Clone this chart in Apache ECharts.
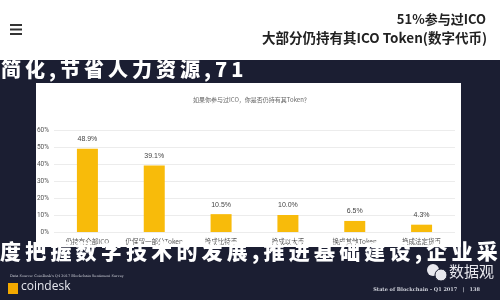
<!DOCTYPE html>
<html><head><meta charset="utf-8">
<script src="https://cdn.jsdelivr.net/npm/echarts@6/dist/echarts.min.js"></script>
<style>html,body{margin:0;padding:0;background:#fff}#c{width:500px;height:300px}</style>
</head><body><div id="c"></div>
<script>
var categories = ['仍持有全部ICO', '仍保留一部分Token', '换成比特币', '换成以太币', '换成其他Token', '换成法定货币'];
var values = [48.9, 39.1, 10.5, 10.0, 6.5, 4.3];
var yTicks = [0, 10, 20, 30, 40, 50, 60];

var DARK = '#1b1e32';
var chart = echarts.init(document.getElementById('c'), null, {renderer: 'canvas'});
var cjk = '"Noto Sans CJK SC", "Noto Sans", sans-serif';
function spaced(s, sep) { return s.split('').join(sep); }
chart.setOption({
  animation: false,
  backgroundColor: '#ffffff',
  grid: {left: 54, right: 45, top: 130, bottom: 68},
  xAxis: {
    type: 'category', data: categories,
    axisLine: {show: false}, axisTick: {show: false},
    axisLabel: {color: '#555', fontSize: 6.5, fontFamily: cjk, margin: 6, interval: 0}
  },
  yAxis: {
    type: 'value', min: yTicks[0], max: yTicks[yTicks.length - 1], interval: 10,
    axisLine: {show: false}, axisTick: {show: false},
    axisLabel: {color: '#555', fontSize: 6.5, formatter: '{value}%', margin: 5, fontFamily: 'Roboto'},
    splitLine: {lineStyle: {color: '#ececec', width: 1}}
  },
  series: [{
    type: 'bar', data: values, barWidth: 21,
    itemStyle: {color: '#f8bb0a'},
    label: {show: true, position: 'top', fontSize: 7, color: '#444', formatter: function (p) { return p.value.toFixed(1) + '%'; }, distance: 6},
    z: 5
  }],
  graphic: [
    {type: 'rect', z: -20, silent: true, shape: {x: 0, y: 60, width: 500, height: 240}, style: {fill: DARK}},
    {type: 'rect', z: -10, silent: true, shape: {x: 36, y: 83, width: 425, height: 164}, style: {fill: '#ffffff'}},
    // hamburger
    {type: 'rect', z: 10, shape: {x: 10, y: 24, width: 12, height: 2}, style: {fill: '#333'}},
    {type: 'rect', z: 10, shape: {x: 10, y: 28.5, width: 12, height: 2}, style: {fill: '#333'}},
    {type: 'rect', z: 10, shape: {x: 10, y: 33, width: 12, height: 2}, style: {fill: '#333'}},
    // header texts
    {type: 'text', z: 10, right: 14, top: 13, style: {text: '51%参与过ICO', font: 'bold 13px ' + cjk, fill: '#222'}},
    {type: 'text', z: 10, right: 13, top: 31, style: {text: '大部分仍持有其ICO Token(数字代币)', font: 'bold 13.5px ' + cjk, fill: '#222'}},
    // subtitle in panel
    {type: 'text', z: 10, left: 193, top: 97, style: {text: '如果你参与过ICO，你是否仍持有其Token？', font: '6px ' + cjk, fill: '#666'}},
    // calligraphy overlays
    {type: 'text', z: 50, left: 1, top: 59, style: {text: spaced('简化,节省人力资源,71', '\u2009'), font: '900 20px ' + cjk, fill: '#ffffff'}},
    {type: 'text', z: 50, left: 0, top: 241, style: {text: spaced('度把握数字技术的发展,推进基础建设,企业采', '\u2009'), font: '900 21px ' + cjk, fill: '#ffffff'}},
    // footer
    {type: 'text', z: 10, left: 10, top: 274, style: {text: "Data Source: CoinDesk's Q4 2017 Blockchain Sentiment Survey", font: '3.5px "DejaVu Serif", serif', fill: '#cfd1da'}},
    {type: 'rect', z: 10, shape: {x: 8, y: 283, width: 10, height: 11}, style: {fill: '#f2a900'}},
    {type: 'text', z: 10, left: 21, top: 281, style: {text: 'coindesk', font: '12px "Open Sans", sans-serif', fill: '#e6e7ee'}},
    {type: 'circle', z: 10, shape: {cx: 433, cy: 270, r: 6}, style: {fill: '#e8e8ee'}},
    {type: 'circle', z: 10, shape: {cx: 441, cy: 275, r: 6}, style: {fill: '#e8e8ee', stroke: DARK, lineWidth: 1}},
    {type: 'text', z: 10, left: 449, top: 264, style: {text: '数据观', font: '15px ' + cjk, fill: '#e8e8ee'}},
    {type: 'text', z: 10, right: 20, top: 287, style: {text: 'State of Blockchain - Q1 2017   |   138', font: 'bold 5px "DejaVu Serif", serif', fill: '#cfd1da'}}
  ]
});
</script></body></html>
